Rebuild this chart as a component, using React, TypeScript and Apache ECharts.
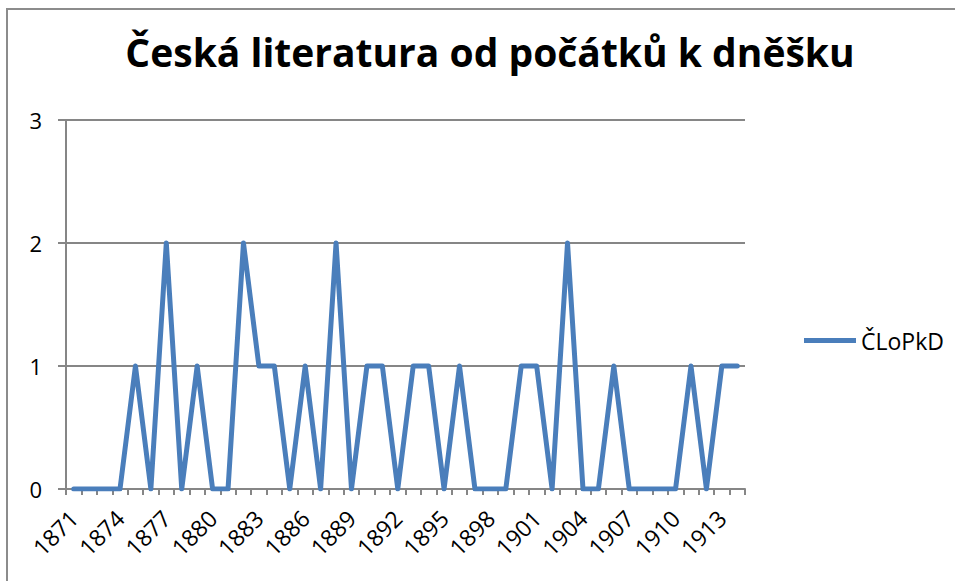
import React, { useEffect, useRef } from "react";
import * as echarts from "echarts";

const years: string[] = [];
for (let y = 1871; y <= 1914; y++) years.push(String(y));

const seriesName = "ČLoPkD";
const values = [
  0, 0, 0, 0, 1, 0, 2, 0, 1, 0, 0, 2, 1, 1, 0, 1, 0, 2, 0, 1, 1, 0,
  1, 1, 0, 1, 0, 0, 0, 1, 1, 0, 2, 0, 0, 1, 0, 0, 0, 0, 1, 0, 1, 1,
];
const titleText = "Česká literatura od počátků k dněšku";

const FONT = "'Open Sans', 'Noto Sans', sans-serif";

export default function App() {
  const ref = useRef<HTMLDivElement>(null);
  useEffect(() => {
    if (!ref.current) return;
    const chart = echarts.init(ref.current, null, { renderer: "svg" });
    chart.setOption({
      animation: false,
      backgroundColor: "#ffffff",
      title: {
        text: titleText,
        left: 485,
        textAlign: "center",
        top: 27,
        textStyle: { fontFamily: FONT, fontWeight: "bold", fontSize: 39, color: "#000" },
      },
      graphic: [
        {
          type: "rect",
          shape: { x: 7, y: 9, width: 960, height: 590 },
          style: { fill: "none", stroke: "#8c8c8c", lineWidth: 2 },
          silent: true,
        },
      ],
      legend: {
        orient: "vertical",
        left: 799,
        top: 324,
        itemWidth: 52,
        itemHeight: 14,
        itemGap: 6,
        textStyle: { fontFamily: FONT, fontSize: 23, color: "#000" },
        data: [{ name: seriesName, icon: "path://M0,0 L52,0 L52,5 L0,5 Z" }],
      },
      grid: { left: 66, right: 210, top: 120, bottom: 92, containLabel: false },
      xAxis: {
        type: "category",
        data: years,
        boundaryGap: true,
        axisLine: { lineStyle: { color: "#868686", width: 2 } },
        axisTick: { show: true, interval: 0, length: 6, lineStyle: { color: "#868686", width: 2 } },
        axisLabel: {
          interval: 2,
          rotate: 45,
          fontFamily: FONT,
          fontSize: 23,
          color: "#000",
          margin: 25,
          formatter: "{a|{value}}",
          rich: { a: { fontFamily: FONT, fontSize: 23, color: "#000" } },
        },
        splitLine: { show: false },
      },
      yAxis: {
        type: "value",
        min: 0,
        max: 3,
        interval: 1,
        axisLine: { show: true, lineStyle: { color: "#868686", width: 2 } },
        axisTick: { show: true, length: 8, lineStyle: { color: "#868686", width: 2 } },
        axisLabel: { fontFamily: FONT, fontSize: 22, color: "#000", margin: 24 },
        splitLine: { show: true, lineStyle: { color: "#868686", width: 2 } },
      },
      series: [
        {
          name: seriesName,
          type: "line",
          data: values,
          symbol: "none",
          lineStyle: { color: "#4a7ebb", width: 5, cap: "round", join: "round" },
          itemStyle: { color: "#4a7ebb" },
        },
      ],
    });
    return () => chart.dispose();
  }, []);
  return (
    <div
      ref={ref}
      style={{ position: "absolute", left: 0, top: 0, width: 955, height: 581 }}
    />
  );
}
